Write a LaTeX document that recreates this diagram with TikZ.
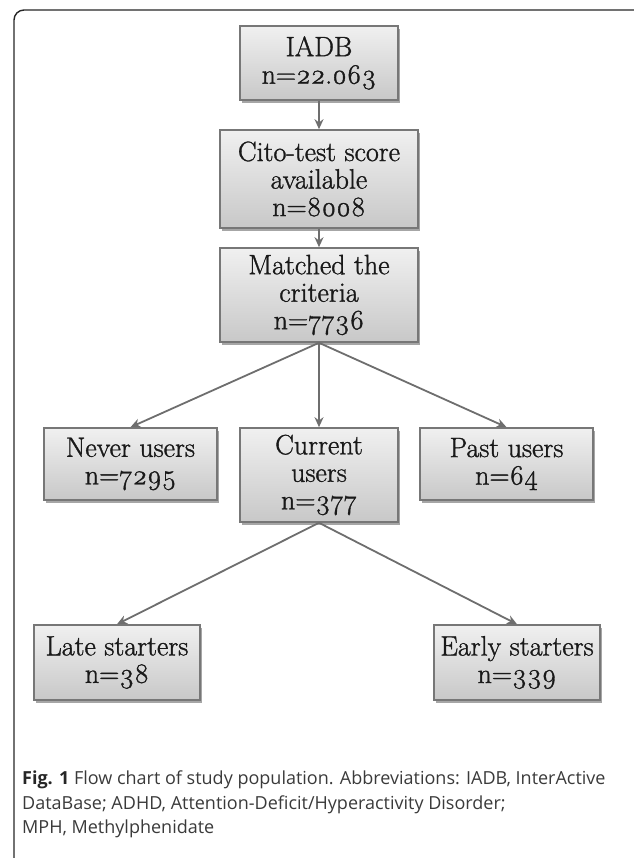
\documentclass[tikz,border=0pt]{standalone}
\usepackage{fontspec}
\usetikzlibrary{shadows,arrows.meta}
\newfontfamily\boxfont{Latin Modern Roman}[Numbers=OldStyle,FakeBold=1.2]
\newfontfamily\capfont{Open Sans}
\definecolor{boxtop}{HTML}{F0F0F0}
\definecolor{boxbot}{HTML}{C8C8C8}
\definecolor{boxline}{HTML}{777777}
\definecolor{arrowc}{HTML}{6E6E6E}
\definecolor{captext}{HTML}{3A3A3A}
\begin{document}
\begin{tikzpicture}[x=1pt,y=-1pt,
  flowbox/.style={draw=boxline, line width=1.6pt, top color=boxtop, bottom color=boxbot,
     drop shadow={shadow xshift=1.5pt, shadow yshift=-3pt, opacity=0.35, fill=black},
     align=center, font=\boxfont\fontsize{28}{27.5}\selectfont, inner sep=0pt, text=black!90},
  flowarrow/.style={draw=arrowc, line width=1.8pt, -{Stealth[length=10pt,width=9pt]}}]
\useasboundingbox (0,0) rectangle (633,858);
\draw[line width=1.4pt, color=black!85, rounded corners=10pt] (634,10) -- (14,10) -- (14,862);
\node[flowbox, minimum width=158pt, minimum height=74pt] (iadb) at (319,63) {IADB\\n=22.063};
\node[flowbox, minimum width=198pt, minimum height=98pt] (cito) at (319,179) {Cito-test score\\available\\n=8008};
\node[flowbox, minimum width=198pt, minimum height=94pt] (match) at (319,295) {Matched the\\criteria\\n=7736};
\node[flowbox, minimum width=173pt, minimum height=72pt] (never) at (130.5,464) {Never users\\n=7295};
\node[flowbox, minimum width=158pt, minimum height=94pt] (current) at (319,475) {Current\\users\\n=377};
\node[flowbox, minimum width=173pt, minimum height=72pt] (past) at (506.5,464) {Past users\\n=64};
\node[flowbox, minimum width=166pt, minimum height=75pt] (late) at (117,662.5) {Late starters\\n=38};
\node[flowbox, minimum width=166pt, minimum height=75pt] (early) at (517,662.5) {Early starters\\n=339};
\draw[flowarrow] (iadb.south) -- (cito.north);
\draw[flowarrow] (cito.south) -- (match.north);
\draw[flowarrow] (match.south) -- (never.north);
\draw[flowarrow] (match.south) -- (current.north);
\draw[flowarrow] (match.south) -- (past.north);
\draw[flowarrow] (current.south) -- (late.north);
\draw[flowarrow] (current.south) -- (early.north);
\node[anchor=north west, align=left, inner sep=0pt, text=captext,
  font=\capfont\fontsize{18}{24.5}\selectfont] (cap) at (22,771)
  {\textbf{\color{black!85}Fig. 1} Flow chart of study population. Abbreviations: IADB, InterActive\\
   DataBase; ADHD, Attention-Deficit/Hyperactivity Disorder;\\
   MPH, Methylphenidate};
\end{tikzpicture}
\end{document}
